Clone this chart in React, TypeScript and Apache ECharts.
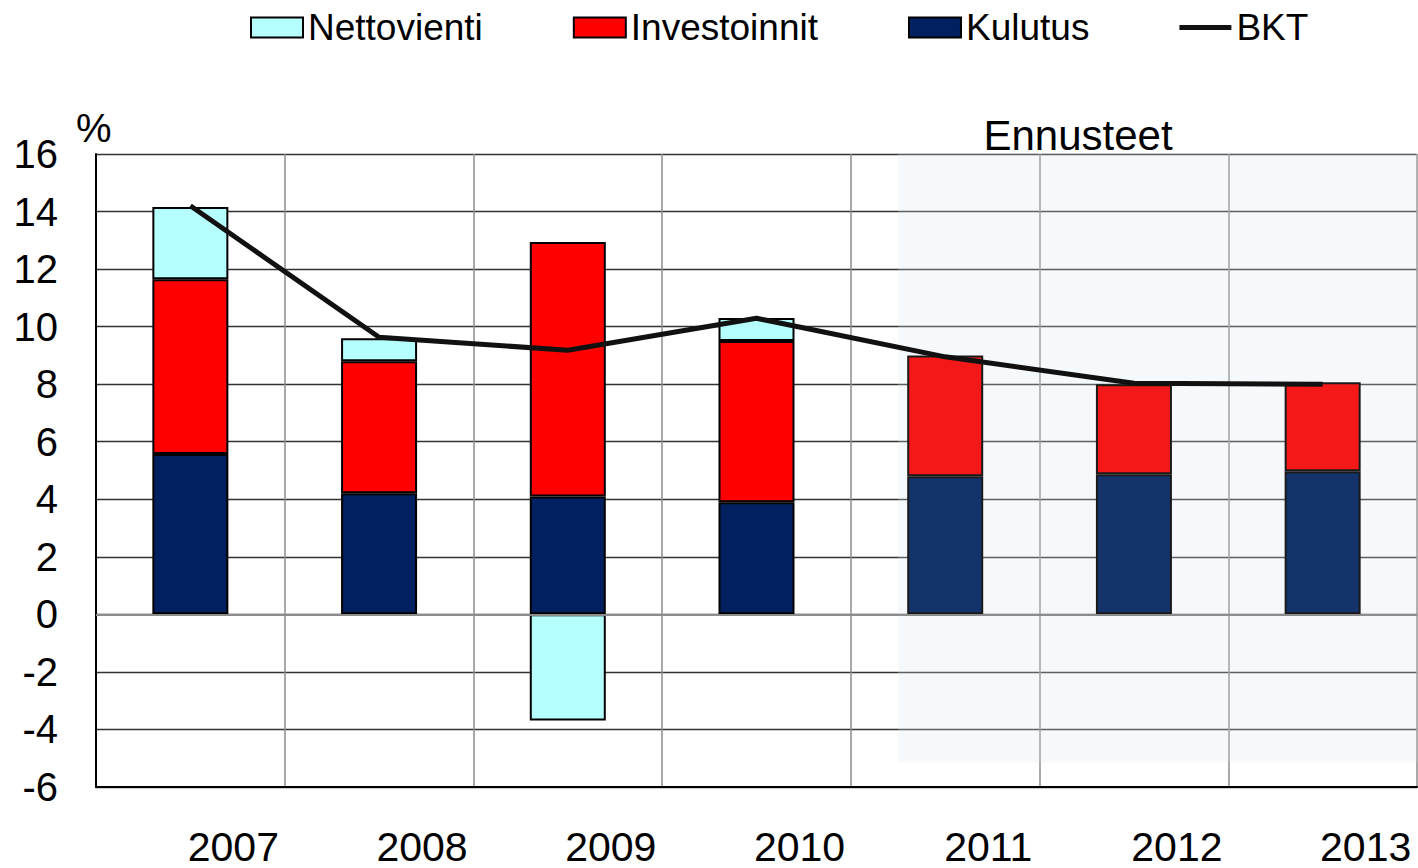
import React, { useEffect, useRef } from "react";
import * as echarts from "echarts";

const years = ["2007", "2008", "2009", "2010", "2011", "2012", "2013"];
const kulutus = [5.57, 4.21, 4.1, 3.9, 4.8, 4.87, 4.97];
const investoinnit = [6.08, 4.59, 8.84, 5.6, 4.2, 3.13, 3.1];
const nettovienti: (number | null)[] = [2.51, 0.8, -3.69, 0.8, null, null, null];
const bkt = [14.2, 9.63, 9.18, 10.29, 8.95, 8.03, 8.0];
const forecastFrom = 4; // index of 2011
const forecastArea = { x0: 4.25, x1: 7, y0: -5.14, y1: 16 };
const yTicks = { min: -6, max: 16, interval: 2 };

const FONT = "Liberation Sans, Arial, sans-serif";

export default function App() {
  const ref = useRef<HTMLDivElement>(null);
  useEffect(() => {
    document.body.style.margin = "0";
    if (!ref.current) return;
    const chart = echarts.init(ref.current, undefined, { renderer: "svg" });
    const mk = (vals: (number | null)[], fc: string) =>
      vals.map((v, i) =>
        i >= forecastFrom
          ? { value: v, itemStyle: { color: fc, borderColor: "#1a1a1a" } }
          : { value: v }
      );
    chart.setOption({
      animation: false,
      backgroundColor: "#ffffff",
      textStyle: { fontFamily: FONT },
      grid: { left: 96, right: 1, top: 154, bottom: 81 },
      legend: {
        left: 245,
        top: 4,
        itemWidth: 52,
        itemHeight: 20,
        itemGap: 90,
        icon: "rect",
        textStyle: { fontSize: 37, color: "#000", fontFamily: FONT },
        data: [
          "Nettovienti",
          "Investoinnit",
          "Kulutus",
          {
            name: "BKT",
            icon: "path://M0,0 L52,0 L52,5 L0,5 Z",
            itemStyle: { color: "#111", borderWidth: 0 },
          },
        ],
      },
      xAxis: [
        {
          type: "category",
          data: years,
          axisTick: { show: false },
          axisLine: { onZero: false, lineStyle: { color: "#000", width: 2 } },
          splitLine: { show: true, interval: 0, lineStyle: { color: "#8c8c8c", width: 1.5 } },
          axisLabel: {
            interval: 0,
            fontSize: 41,
            color: "#000",
            fontFamily: FONT,
            margin: 39,
            padding: [0, 0, 0, 86],
          },
        },
        { type: "value", min: 0, max: 7, show: false },
      ],
      yAxis: {
        type: "value",
        min: yTicks.min,
        max: yTicks.max,
        interval: yTicks.interval,
        axisLine: { show: true, lineStyle: { color: "#000", width: 2 } },
        axisTick: { show: false },
        splitLine: { lineStyle: { color: "#333", width: 1.3 } },
        axisLabel: { fontSize: 40, color: "#000", fontFamily: FONT, margin: 38 },
      },
      graphic: [
        { type: "text", x: 76, y: 108, style: { text: "%", fontSize: 40, fontFamily: FONT, fill: "#000" } },
        {
          type: "text",
          x: 1078,
          y: 114,
          style: { text: "Ennusteet", fontSize: 42, fontFamily: FONT, fill: "#000", align: "center" },
        },
      ],
      series: [
        {
          type: "line",
          xAxisIndex: 1,
          data: [],
          silent: true,
          markArea: {
            silent: true,
            itemStyle: { color: "rgba(220,232,240,0.25)" },
            data: [
              [
                { coord: [forecastArea.x0, forecastArea.y0] },
                { coord: [forecastArea.x1, forecastArea.y1] },
              ],
            ],
          },
        },
        {
          name: "Kulutus",
          type: "bar",
          stack: "a",
          barWidth: 76,
          data: mk(kulutus, "#13336a"),
          itemStyle: { color: "#002060", borderColor: "#000", borderWidth: 2 },
          markLine: {
            silent: true,
            symbol: "none",
            label: { show: false },
            lineStyle: { color: "#8c8c8c", width: 2, type: "solid" },
            data: [{ yAxis: 0 }],
          },
        },
        {
          name: "Investoinnit",
          type: "bar",
          stack: "a",
          barWidth: 76,
          data: mk(investoinnit, "#f51818"),
          itemStyle: { color: "#ff0000", borderColor: "#000", borderWidth: 2 },
        },
        {
          name: "Nettovienti",
          type: "bar",
          stack: "a",
          barWidth: 76,
          data: nettovienti,
          itemStyle: { color: "#b5ffff", borderColor: "#000", borderWidth: 2 },
        },
        {
          name: "BKT",
          type: "line",
          data: bkt,
          symbol: "none",
          lineStyle: { color: "#111", width: 5 },
          itemStyle: { color: "#111" },
          z: 5,
        },
      ],
    });
    return () => chart.dispose();
  }, []);
  return <div ref={ref} style={{ width: 1418, height: 868 }} />;
}
